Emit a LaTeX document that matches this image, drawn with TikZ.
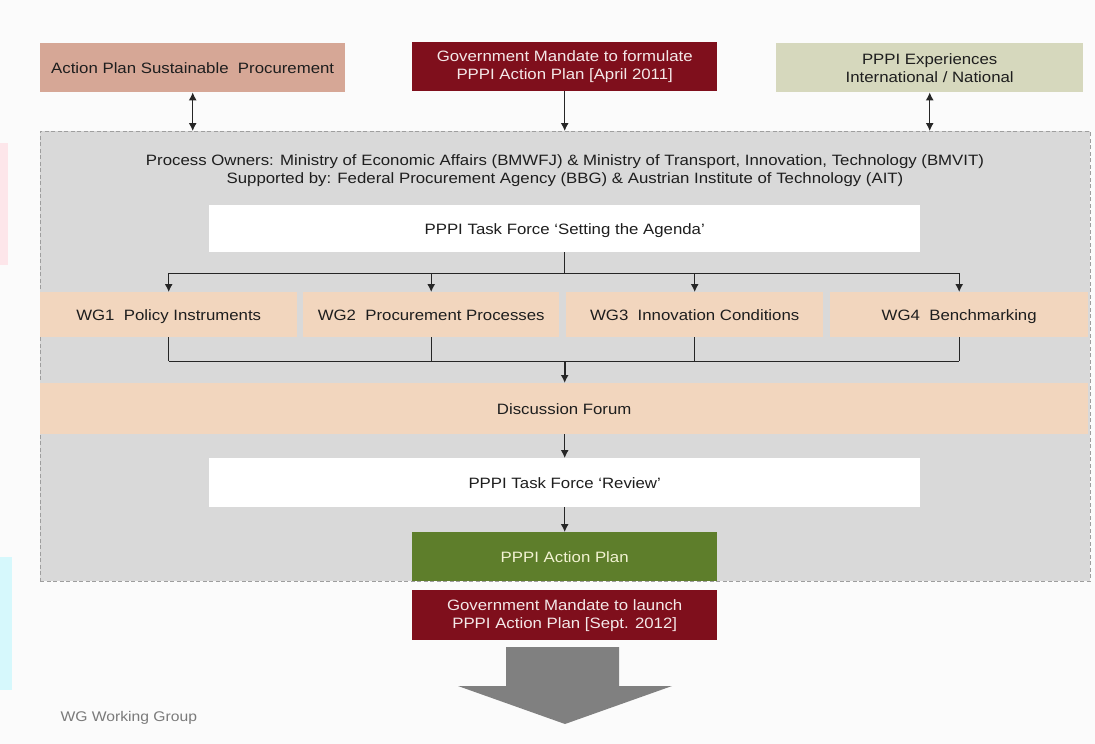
\documentclass[tikz,border=0pt]{standalone}
\usepackage{fontspec}
\setmainfont{Liberation Sans}[FakeStretch=1.12]
\usetikzlibrary{arrows.meta,calc}
\definecolor{bg}{HTML}{FBFBFB}
\definecolor{salmon}{HTML}{D6A796}
\definecolor{darkred}{HTML}{7F0F1C}
\definecolor{olivepale}{HTML}{D6D8BD}
\definecolor{contgrey}{HTML}{D9D9D9}
\definecolor{peach}{HTML}{F2D6BE}
\definecolor{plangreen}{HTML}{5E7E2B}
\definecolor{bigarrow}{HTML}{808080}
\definecolor{txt}{HTML}{1E1E1E}
\definecolor{redtxt}{HTML}{F4E8E8}
\definecolor{greentxt}{HTML}{F2F2D2}
\definecolor{legendtxt}{HTML}{7A7A7A}
\definecolor{artpink}{HTML}{FDE6EA}
\definecolor{artcyan}{HTML}{D6F8FC}
\begin{document}
\begin{tikzpicture}[x=1pt,y=-1pt,
  every node/.style={font=\fontsize{15}{18}\selectfont, text=txt},
  box/.style={anchor=north west, inner sep=0pt, align=center},
  oneline/.style={text height=13.6pt, text depth=3pt},
  conn/.style={draw=black!85, line width=1.2pt, -{Latex[length=8pt,width=8pt]}},
  dconn/.style={draw=black!85, line width=1.2pt, {Latex[length=8pt,width=8pt]}-{Latex[length=8pt,width=8pt]}},
  plainline/.style={draw=black!85, line width=1.2pt}]
\fill[bg] (0,0) rectangle (1095,744);
\useasboundingbox (0,0) rectangle (1095,744);
% edge artefacts
\fill[artpink] (0,143) rectangle (8,265);
\fill[artcyan] (0,557) rectangle (12,690);

% top boxes
\node[box, oneline, fill=salmon, minimum width=305pt, minimum height=49pt] (aps) at (40,43) {Action Plan Sustainable~~Procurement};
\node[box, fill=darkred, text=redtxt, minimum width=305pt, minimum height=49pt] (gm1) at (412,42) {Government Mandate to formulate\\PPPI Action Plan [April 2011]};
\node[box, fill=olivepale, minimum width=307pt, minimum height=49pt] (exp) at (776,43) {PPPI Experiences\\International / National};

% container
\node[box, fill=contgrey, draw=black!38, dash pattern=on 4pt off 2.5pt, line width=0.9pt, minimum width=1050pt, minimum height=450pt] (cont) at (40,131) {};

\draw[dconn] (aps.south) -- (aps.south |- cont.north);
\draw[conn] (gm1.south) -- (gm1.south |- cont.north);
\draw[dconn] (exp.south) -- (exp.south |- cont.north);

\node[align=center] (own) at (565,171) {Process Owners: Ministry of Economic Affairs (BMWFJ) \& Ministry of Transport, Innovation, Technology (BMVIT)\\Supported by: Federal Procurement Agency (BBG) \& Austrian Institute of Technology (AIT)};

\node[box, oneline, fill=white, minimum width=711pt, minimum height=47pt] (tf1) at (209,205) {PPPI Task Force `Setting the Agenda'};

% working groups
\node[box, oneline, fill=peach, minimum width=257pt, minimum height=45pt] (wg1) at (40,292) {WG1~~Policy Instruments};
\node[box, oneline, fill=peach, minimum width=256pt, minimum height=45pt] (wg2) at (303,292) {WG2~~Procurement Processes};
\node[box, oneline, fill=peach, minimum width=257pt, minimum height=45pt] (wg3) at (566,292) {WG3~~Innovation Conditions};
\node[box, oneline, fill=peach, minimum width=258pt, minimum height=45pt] (wg4) at (830,292) {WG4~~Benchmarking};

\path (tf1.south) ++(0,21) coordinate (split);
\draw[plainline] (tf1.south) -- (split);
\draw[plainline] (split -| wg1.north) -- (split -| wg4.north);
\foreach \w in {wg1,wg2,wg3,wg4} \draw[conn] (split -| \w.north) -- (\w.north);

\path (tf1.south |- wg1.south) ++(0,24) coordinate (merge);
\foreach \w in {wg1,wg2,wg3,wg4} \draw[plainline] (\w.south) -- (merge -| \w.south);
\draw[plainline] (merge -| wg1.south) -- (merge -| wg4.south);

\node[box, oneline, fill=peach, minimum width=1048pt, minimum height=51pt] (df) at (40,383) {Discussion Forum};
\draw[conn, line width=1.7pt] (merge) -- (merge |- df.north);

\node[box, oneline, fill=white, minimum width=711pt, minimum height=49pt] (tf2) at (209,458) {PPPI Task Force `Review'};
\draw[conn] (df.south -| tf2.north) -- (tf2.north);

\node[box, oneline, fill=plangreen, text=greentxt, minimum width=305pt, minimum height=49pt] (ap) at (412,532) {PPPI Action Plan};
\draw[conn] (tf2.south) -- (tf2.south |- ap.north);

\node[box, fill=darkred, text=redtxt, minimum width=305pt, minimum height=50pt] (gm2) at (412,590) {Government Mandate to launch\\PPPI Action Plan [Sept. 2012]};

\fill[bigarrow] (506,647) -- (619,647) -- (619,686) -- (672,686) -- (565,724) -- (458,686) -- (506,686) -- cycle;

\node[anchor=west, text=legendtxt, font=\fontsize{14}{16}\selectfont] (legend) at (57,718) {WG Working Group};
\end{tikzpicture}
\end{document}
